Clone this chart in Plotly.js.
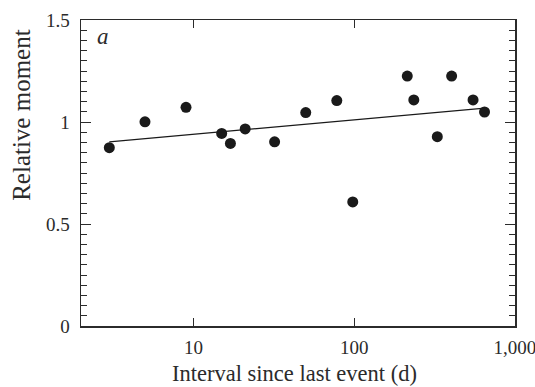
<!DOCTYPE html>
<html>
<head>
<meta charset="utf-8">
<script src="https://cdn.plot.ly/plotly-3.0.1.min.js"></script>
<style>html,body{margin:0;padding:0;background:#fff;}#chart{width:535px;height:387px;}</style>
</head>
<body>
<div id="chart"></div>
<script>
// Data
var intervalDays = [3, 5, 9, 15, 17, 21, 32, 50, 78, 98, 214, 235, 329, 404, 549, 647];
var relMoment    = [0.874, 1.001, 1.072, 0.944, 0.895, 0.966, 0.903, 1.046, 1.105, 0.608, 1.225, 1.108, 0.928, 1.225, 1.108, 1.049];
var fitX = [3, 650];
var fitY = [0.903, 1.068];
var xTickVals = [10, 100, 1000];
var xTickText = ['10', '100', '1,000'];
var yTickVals = [0, 0.5, 1, 1.5];
var yTickText = ['0', '0.5', '1', '1.5'];
var xTitle = 'Interval since last event (d)';
var yTitle = 'Relative moment';

var serif = 'Liberation Serif, Times New Roman, serif';
var ink = '#2b2b2b';

var traces = [
  {x: intervalDays, y: relMoment, mode: 'markers', type: 'scatter',
   marker: {color: '#1a1a1a', size: 11}, hoverinfo: 'skip'},
  {x: fitX, y: fitY, mode: 'lines', type: 'scatter',
   line: {color: '#1a1a1a', width: 1.2}, hoverinfo: 'skip'}
];

var layout = {
  width: 535, height: 387,
  margin: {l: 81, r: 20, t: 20, b: 61},
  paper_bgcolor: '#fff', plot_bgcolor: '#fff',
  showlegend: false,
  font: {family: serif, color: ink, size: 19},
  xaxis: {
    type: 'log', range: [Math.log10(2), 3.0005],
    tickvals: xTickVals, ticktext: xTickText,
    ticks: 'inside', ticklen: 8, tickwidth: 1, tickcolor: ink,
    ticklabelstandoff: 4, ticklabeloverflow: 'allow',
    showline: true, linecolor: ink, linewidth: 1.5, mirror: 'ticks',
    showgrid: false, zeroline: false,
    tickfont: {family: serif, size: 19, color: ink}
  },
  yaxis: {
    range: [0, 1.5],
    tickvals: yTickVals, ticktext: yTickText,
    ticks: 'inside', ticklen: 10, tickwidth: 1, tickcolor: ink,
    ticklabelstandoff: 6, ticklabeloverflow: 'allow',
    minor: {dtick: 0.05, ticks: 'inside', ticklen: 6, tickwidth: 1, tickcolor: ink, showgrid: false},
    showline: true, linecolor: ink, linewidth: 1.5, mirror: 'ticks',
    showgrid: false, zeroline: false,
    tickfont: {family: serif, size: 19, color: ink}
  },
  annotations: [
    {text: '<i>a</i>', xref: 'paper', yref: 'paper', x: 0.033, y: 0.995,
     xanchor: 'left', yanchor: 'top', showarrow: false,
     font: {family: serif, size: 23, color: ink}},
    {text: xTitle, xref: 'paper', yref: 'paper', x: 0.493, y: -0.154,
     xanchor: 'center', yanchor: 'middle', showarrow: false,
     font: {family: serif, size: 22.5, color: ink}},
    {text: yTitle, xref: 'paper', yref: 'paper', x: -0.136, y: 0.69,
     xanchor: 'center', yanchor: 'middle', textangle: -90, showarrow: false,
     font: {family: serif, size: 25, color: ink}}
  ]
};

Plotly.newPlot('chart', traces, layout, {displayModeBar: false, staticPlot: true});
</script>
</body>
</html>
